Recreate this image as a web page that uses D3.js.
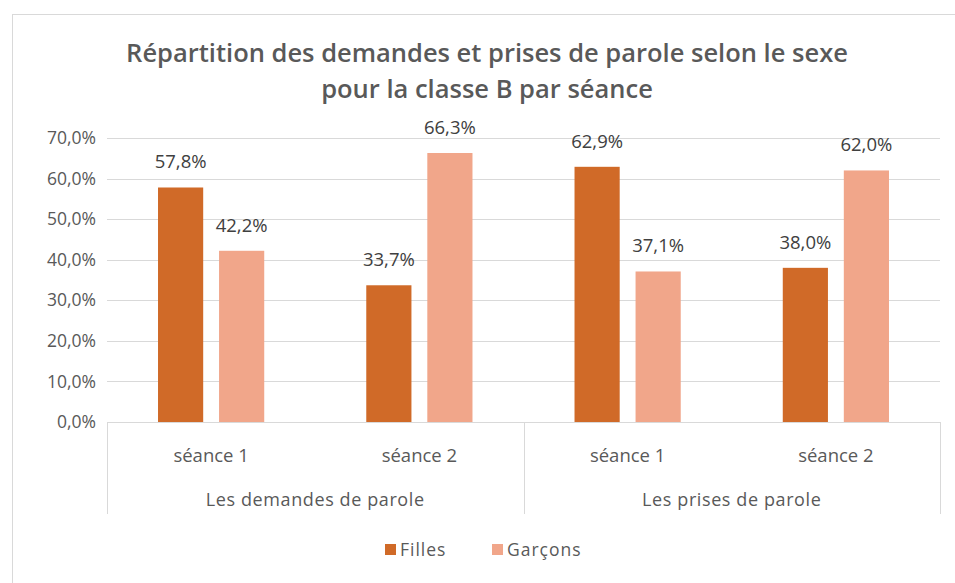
<!DOCTYPE html>
<html>
<head>
<meta charset="utf-8">
<script src="https://cdn.jsdelivr.net/npm/d3@7"></script>
<style>
  body { margin: 0; background: #fff; }
  svg text { font-family: "Open Sans", sans-serif; }
</style>
</head>
<body>
<div id="chart"></div>
<script>
// données
const groupes = ['Les demandes de parole', 'Les prises de parole'];
const seances = ['séance 1', 'séance 2'];
const series = ['Filles', 'Garçons'];
const filles = [57.8, 33.7, 62.9, 38.0];
const garcons = [42.2, 66.3, 37.1, 62.0];
const yTicks = [0, 10, 20, 30, 40, 50, 60, 70];
const couleurs = ['#D06A28', '#F1A68A'];

const W = 955, H = 583;
const svg = d3.select('#chart').append('svg')
  .attr('width', W).attr('height', H);

// cadre du graphique
svg.append('rect')
  .attr('x', 12.5).attr('y', 14.5)
  .attr('width', W - 12).attr('height', H - 14)
  .attr('fill', '#fff').attr('stroke', '#D9D9D9');

// titre
const titre = svg.append('text')
  .attr('x', 487).attr('y', 62)
  .attr('text-anchor', 'middle')
  .attr('fill', '#595959')
  .style('font-size', '25.5px').style('font-weight', '600');
titre.append('tspan').attr('x', 487).attr('dy', 0)
  .text('Répartition des demandes et prises de parole selon le sexe');
titre.append('tspan').attr('x', 487).attr('dy', 36)
  .text('pour la classe B par séance');

const m = { left: 107, right: 940, top: 138, bottom: 422 };

const y = d3.scaleLinear().domain([0, 70]).range([m.bottom, m.top]);

// une catégorie par séance et par groupe
const cats = [];
groupes.forEach((g, gi) => seances.forEach((s, si) => cats.push({ g, s, i: gi * 2 + si })));

const x0 = d3.scaleBand().domain(cats.map(c => c.i))
  .range([m.left, m.right]).paddingInner(0.49).paddingOuter(0.245);
const x1 = d3.scaleBand().domain(series).range([0, x0.bandwidth()]).paddingInner(0.26);

// grille
svg.append('g').selectAll('line').data(yTicks.filter(t => t > 0)).join('line')
  .attr('x1', m.left).attr('x2', m.right)
  .attr('y1', d => Math.round(y(d)) + 0.5).attr('y2', d => Math.round(y(d)) + 0.5)
  .attr('stroke', '#D9D9D9');

// axe des y
const yAxis = d3.axisLeft(y).tickValues(yTicks)
  .tickFormat(d => d3.format('.1f')(d).replace('.', ',') + '%')
  .tickSize(0).tickPadding(11);
const gy = svg.append('g').attr('transform', `translate(${m.left},0)`).call(yAxis);
gy.select('.domain').remove();
gy.selectAll('text').attr('fill', '#595959').style('font-size', '17.5px');

// barres
const data = [];
cats.forEach(c => {
  data.push({ c, s: 'Filles', v: filles[c.i], col: couleurs[0] });
  data.push({ c, s: 'Garçons', v: garcons[c.i], col: couleurs[1] });
});
const bars = svg.append('g');
bars.selectAll('rect').data(data).join('rect')
  .attr('x', d => x0(d.c.i) + x1(d.s))
  .attr('width', x1.bandwidth())
  .attr('y', d => y(d.v))
  .attr('height', d => y(0) - y(d.v))
  .attr('fill', d => d.col);

// étiquettes de valeurs
bars.selectAll('text').data(data).join('text')
  .attr('x', d => x0(d.c.i) + x1(d.s) + x1.bandwidth() / 2)
  .attr('y', d => y(d.v) - 19)
  .attr('text-anchor', 'middle')
  .attr('fill', '#404040')
  .style('font-size', '18.5px')
  .text(d => d.v.toFixed(1).replace('.', ',') + '%');

// axe des catégories (hiérarchique)
const ax = svg.append('g').attr('stroke', '#D9D9D9');
ax.append('line').attr('x1', m.left).attr('x2', m.right)
  .attr('y1', m.bottom + 0.5).attr('y2', m.bottom + 0.5);
const sep = [m.left, (m.left + m.right) / 2, m.right];
ax.selectAll('line.sep').data(sep).join('line').attr('class', 'sep')
  .attr('x1', d => Math.round(d) + 0.5).attr('x2', d => Math.round(d) + 0.5)
  .attr('y1', m.bottom).attr('y2', 514);

svg.append('g').selectAll('text').data(cats).join('text')
  .attr('x', d => x0(d.i) + x0.bandwidth() / 2)
  .attr('y', 462)
  .attr('text-anchor', 'middle')
  .attr('fill', '#595959')
  .style('font-size', '18.5px')
  .text(d => d.s);

svg.append('g').selectAll('text').data(groupes).join('text')
  .attr('x', (d, i) => (sep[i] + sep[i + 1]) / 2)
  .attr('y', 506)
  .attr('text-anchor', 'middle')
  .attr('fill', '#595959')
  .style('font-size', '18px')
  .style('letter-spacing', '0.6px')
  .text(d => d);

// légende
const leg = svg.append('g');
const legX = [385, 492];
series.forEach((s, i) => {
  leg.append('rect').attr('x', legX[i]).attr('y', 544)
    .attr('width', 11).attr('height', 11).attr('fill', couleurs[i]);
  leg.append('text').attr('x', legX[i] + 15).attr('y', 556)
    .attr('fill', '#595959').style('font-size', '17.5px')
    .style('letter-spacing', '1px').text(s);
});
</script>
</body>
</html>
